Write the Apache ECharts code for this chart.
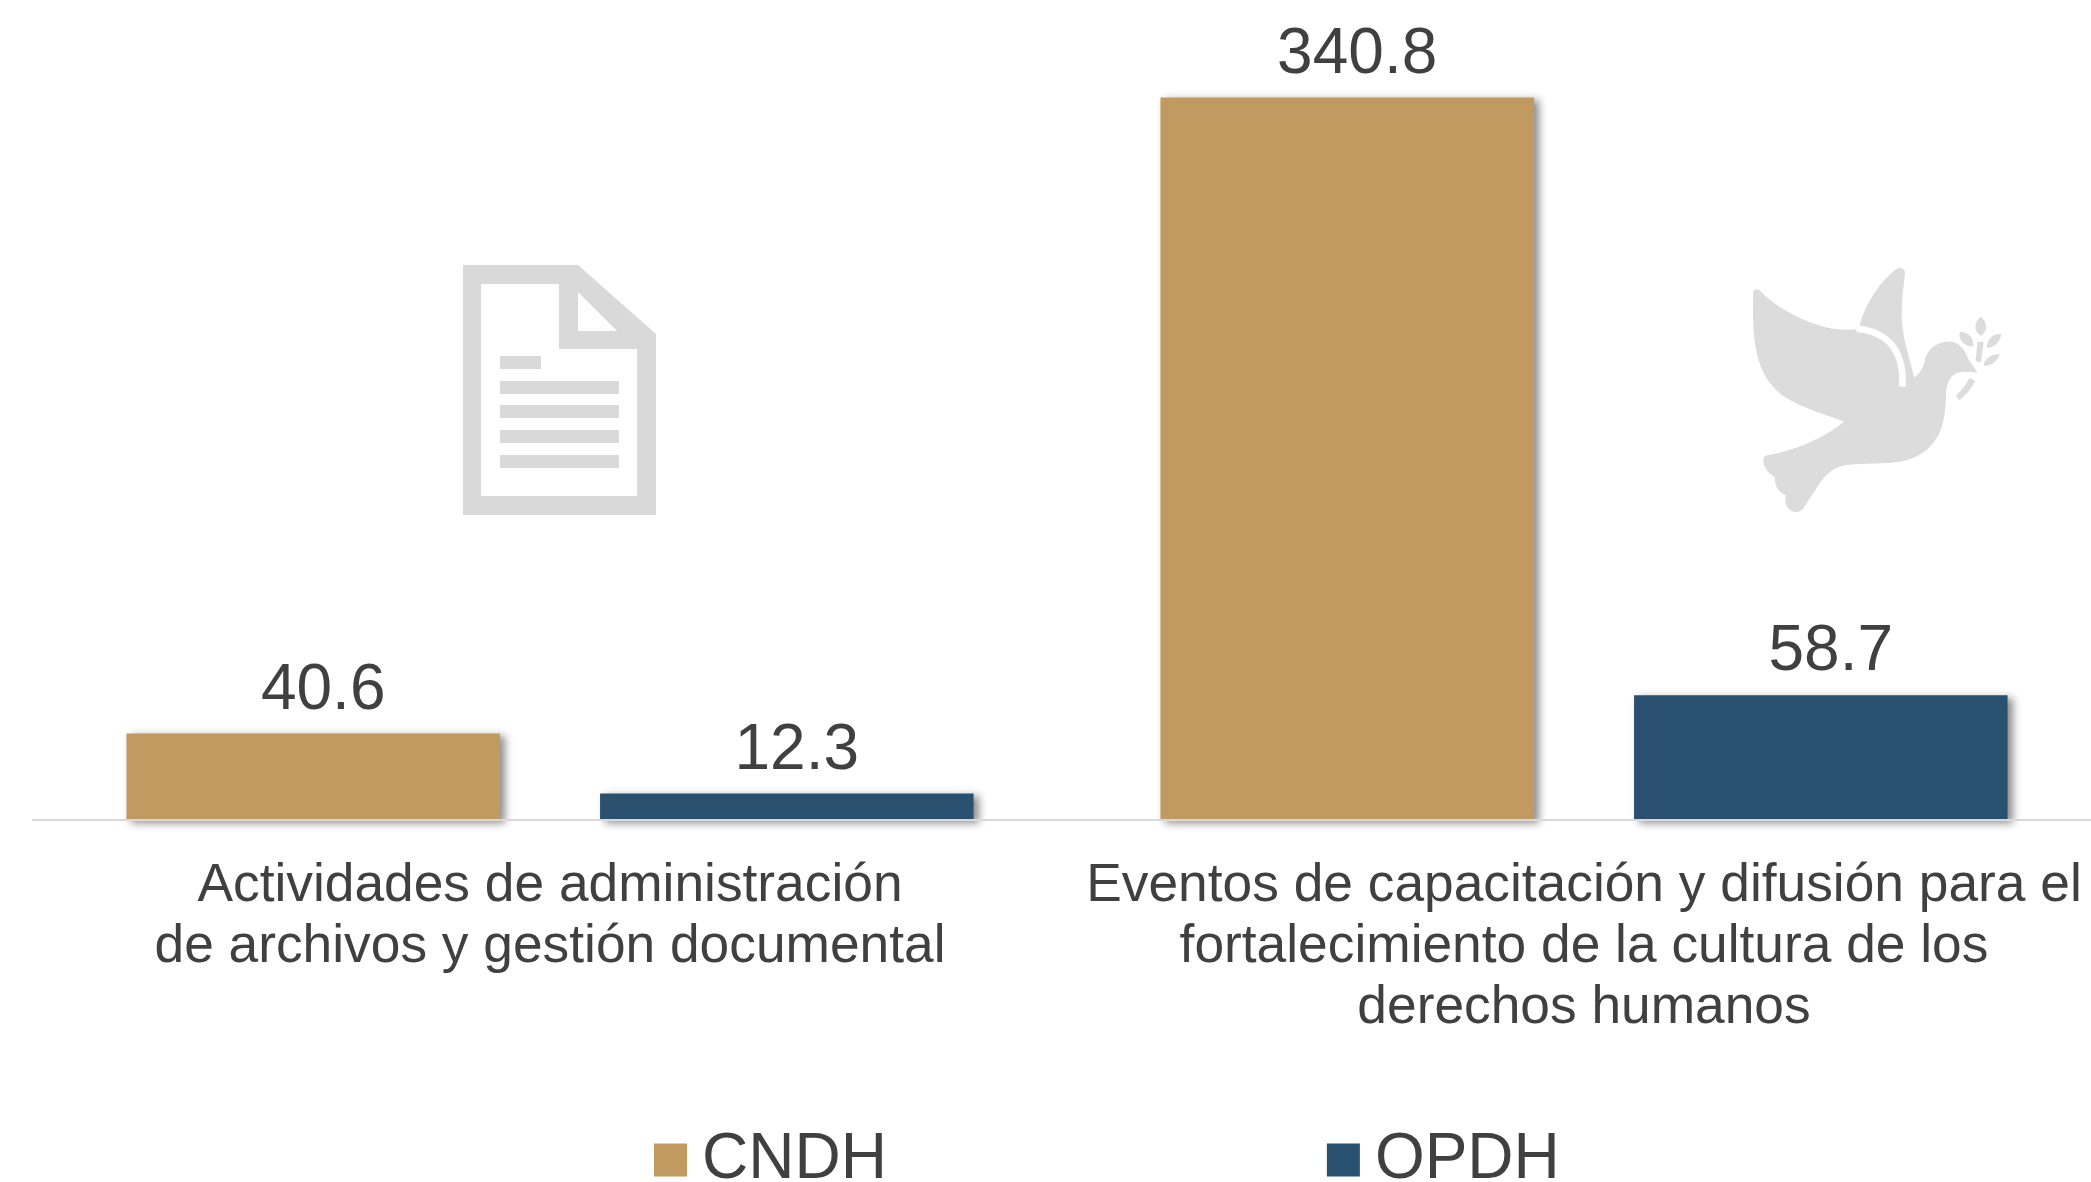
<!DOCTYPE html>
<html><head><meta charset="utf-8">
<style>html,body{margin:0;padding:0;background:#fff}#c{width:2091px;height:1182px}</style>
<script src="https://cdn.jsdelivr.net/npm/echarts@6/dist/echarts.min.js"></script>
</head><body><div id="c"></div>
<script>
const categories = ['Actividades de administración\nde archivos y gestión documental','Eventos de capacitación y difusión para el\nfortalecimiento de la cultura de los\nderechos humanos'];
const cndh = [40.6, 340.8];
const opdh = [12.3, 58.7];
const font = '"Liberation Sans", Arial, sans-serif';
const textColor = '#404040';
const dove = 'M70 125 C72 116 84 116 92 124 C130 165 210 215 300 235 C330 240 360 240 388 236 C392 190 440 100 500 56 C512 50 526 56 525 70 C518 130 510 190 520 250 C526 290 545 345 552 382 C565 375 578 360 583 335 C590 300 615 278 650 275 C680 273 700 290 712 320 C718 335 735 355 742 368 C725 366 700 362 680 370 C660 378 650 400 648 430 C647 470 645 510 630 545 C610 590 570 625 510 635 C460 643 400 638 350 645 C310 650 285 675 262 710 L222 772 C212 790 190 790 178 778 C166 766 164 750 167 735 C150 730 134 712 134 680 C115 672 100 650 100 630 C100 620 105 617 115 615 C200 600 280 565 342 515 C290 495 220 475 170 445 C110 405 85 350 75 280 C68 230 68 170 70 125 Z M752 200 C770 215 778 240 752 258 C728 240 734 215 752 200 Z M690 245 C715 245 735 265 728 290 C700 288 682 265 690 245 Z M814 252 C810 275 795 295 770 293 C772 265 790 250 814 252 Z M810 313 C800 335 785 350 760 347 C765 325 785 310 810 313 Z M742 275 L761 277 L753 337 L737 334 Z M718 384 L736 393 C725 415 708 435 688 451 L677 437 C695 422 708 405 718 384 Z';
const doveGap = 'M380 236 C450 243 525 280 517 410';
const docFrame = 'M463 265 L578 265 L656 334 L656 515 L463 515 Z M481 284 L481 496 L637 496 L637 349 L559 349 L559 284 Z M578 292 L578 331 L617 331 Z';
const docLines = 'M500 356 L541 356 L541 369 L500 369 Z M500 381 L619 381 L619 394 L500 394 Z M500 405 L619 405 L619 418 L500 418 Z M500 430 L619 430 L619 443 L500 443 Z M500 455 L619 455 L619 468 L500 468 Z';
echarts.graphic.registerShape('dove', echarts.graphic.extendPath(dove, {}));
echarts.graphic.registerShape('doveGap', echarts.graphic.extendPath(doveGap, {}));
echarts.graphic.registerShape('docFrame', echarts.graphic.extendPath(docFrame, {}));
echarts.graphic.registerShape('docLines', echarts.graphic.extendPath(docLines, {}));

const chart = echarts.init(document.getElementById('c'), null, {renderer:'canvas'});
const shadow = {shadowColor:'rgba(0,0,0,0.45)', shadowBlur:8, shadowOffsetX:5, shadowOffsetY:3};
const labelBase = {show:true, position:'top', distance:10.5, offset:[10,0], fontFamily:font, fontSize:64, color:textColor, formatter:p=>p.value.toFixed(1)};
chart.setOption({
  animation:false,
  backgroundColor:'#fff',
  grid:{left:33, width:2068, top:78, height:741.5, containLabel:false, outerBoundsMode:'none'},
  xAxis:{type:'category', data:categories,
    axisLine:{show:true, lineStyle:{color:'#d9d9d9', width:2}}, axisTick:{show:false},
    axisLabel:{interval:0, margin:36, fontFamily:font, fontSize:53.3, lineHeight:61, color:textColor, align:'center', verticalAlign:'top'}, z:5},
  yAxis:{type:'value', min:0, max:350, interval:50, show:false, splitLine:{show:false}},
  legend:{left:649, top:1123, itemWidth:33, itemHeight:33, itemGap:440, icon:'rect',
    textStyle:{fontFamily:font, fontSize:64, color:textColor, padding:[0,0,0,10]}, data:['CNDH','OPDH']},
  series:[
    {name:'CNDH', type:'bar', data:cndh, barWidth:373.5, barGap:'26.8%', itemStyle:{color:'#c19a61', ...shadow}, label:labelBase},
    {name:'OPDH', type:'bar', data:opdh, barWidth:373.5, itemStyle:{color:'#2a506f', ...shadow}, label:labelBase}
  ],
  graphic:{elements:[
    {type:'docFrame', silent:true, style:{fill:'#d9d9d9'}},
    {type:'docLines', silent:true, style:{fill:'#d9d9d9'}},
    {type:'dove', silent:true, x:1730, y:250, scaleX:1/3, scaleY:1/3, style:{fill:'#dcdcdc'}},
    {type:'doveGap', silent:true, x:1730, y:250, scaleX:1/3, scaleY:1/3, style:{fill:'none', stroke:'#fff', lineWidth:20}}
  ]}
});
</script></body></html>
